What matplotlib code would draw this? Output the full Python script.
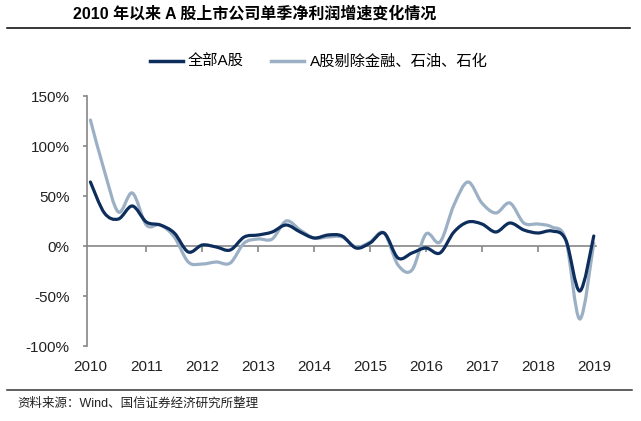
import matplotlib
matplotlib.use("Agg")
import matplotlib.pyplot as plt
import numpy as np
from matplotlib.path import Path
from matplotlib.patches import PathPatch
from matplotlib.lines import Line2D
import matplotlib.transforms as mtransforms

plt.rcParams['font.family'] = ['Liberation Sans', 'Noto Sans CJK SC', 'DejaVu Sans']

# quarterly single-quarter net profit growth, %, 2010Q1 .. 2019Q1
quarters = np.arange(37) / 4 + 2010
all_a = [64, 33, 27, 40, 24, 21, 13, -6, 1, -1, -4, 9, 11, 14, 21, 14,
         8, 11, 10, -2, 3, 13, -12, -7, -2, -7, 14, 24, 22, 14, 23, 16,
         13, 15, 6, -45, 10]
ex_fin = [126, 75, 34, 53, 21, 21, 9, -16, -18, -16, -17, 3, 7, 7, 25, 16,
          8, 9, 9, -1, 4, 13, -19, -24, 12, 4, 41, 64, 43, 33, 43, 23,
          22, 19, 6, -73, 3]
years = list(range(2010, 2020))
yticks = [-100, -50, 0, 50, 100, 150]

dark = '#0d2d5c'
light = '#9cb0c5'
gray = '#868686'


def smooth_path(x, y):
    # excel-style smoothed line as cubic bezier segments
    p = np.column_stack([x, y]).astype(float)
    n = len(p)
    verts = [p[0]]
    codes = [Path.MOVETO]
    for i in range(n - 1):
        p0 = p[i - 1] if i > 0 else p[i]
        p3 = p[i + 2] if i + 2 < n else p[i + 1]
        c1 = p[i] + (p[i + 1] - p0) / 6
        c2 = p[i + 1] - (p3 - p[i]) / 6
        verts += [c1, c2, p[i + 1]]
        codes += [Path.CURVE4] * 3
    return Path(verts, codes)


fig = plt.figure(figsize=(6.41, 4.21), dpi=100)
ax = fig.add_axes([86.5 / 641, 1 - 346 / 421, (596 - 86.5) / 641, 250 / 421])
ax.set_xlim(2009.93, 2019.04)
ax.set_ylim(-100, 150)

for series, col in [(ex_fin, light), (all_a, dark)]:
    ax.add_patch(PathPatch(smooth_path(quarters, series), facecolor='none',
                           edgecolor=col, lw=2.3, capstyle='round', zorder=3))

for s in ['top', 'right']:
    ax.spines[s].set_visible(False)
ax.spines['left'].set_color(gray)
ax.spines['left'].set_linewidth(1.2)
ax.spines['bottom'].set_position(('data', 0))
ax.spines['bottom'].set_color(gray)
ax.spines['bottom'].set_linewidth(1.2)

ax.set_yticks(yticks)
ax.set_yticklabels([f'{v}%' for v in yticks], fontsize=11, color='#222222')
ax.tick_params(axis='y', direction='out', length=3, width=1.2, color=gray, pad=9)
ax.set_xticks(years[1:-1])
ax.tick_params(axis='x', direction='out', length=4, width=1.2, color=gray,
               labelbottom=False)

trans = mtransforms.blended_transform_factory(ax.transData, ax.transAxes)
for yr in years:
    ax.text(yr, -0.085, str(yr), transform=trans, ha='center', va='center',
            fontsize=11, color='#222222')

handles = [Line2D([], [], color=dark, lw=2.5), Line2D([], [], color=light, lw=2.5)]
fig.legend(handles, ['全部A股', 'A股剔除金融、石油、石化'], loc='center',
           bbox_to_anchor=(0.497, 1 - 62 / 421), ncol=2, frameon=False,
           handlelength=2.15, handletextpad=0.35, columnspacing=1.8,
           prop={'family': ['Liberation Sans', 'Noto Sans CJK SC'], 'size': 11})

fig.text(73 / 641, 1 - 14 / 421, '2010 年以来 A 股上市公司单季净利润增速变化情况',
         fontsize=11.5, fontweight='bold', ha='left', va='center')
fig.add_artist(Line2D([7 / 641, 630 / 641], [1 - 28 / 421] * 2, color='black', lw=1.1))
fig.add_artist(Line2D([7 / 641, 632 / 641], [1 - 390 / 421] * 2, color='#333333', lw=1.1))
fig.text(17 / 641, 1 - 404 / 421, '资料来源：Wind、国信证券经济研究所整理',
         fontsize=9, ha='left', va='center', color='#222222')

fig.savefig('out.png', dpi=100)
